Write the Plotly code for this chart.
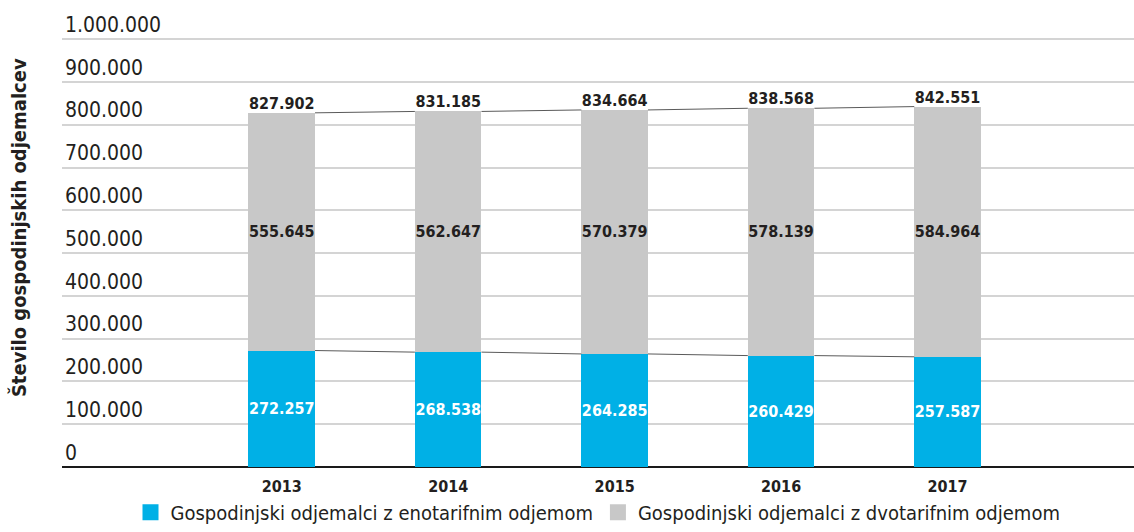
import plotly.graph_objects as go

years = [2013, 2014, 2015, 2016, 2017]
enotarifni = [272257, 268538, 264285, 260429, 257587]
dvotarifni = [555645, 562647, 570379, 578139, 584964]
skupaj = [827902, 831185, 834664, 838568, 842551]

name_eno = "Gospodinjski odjemalci z enotarifnim odjemom"
name_dvo = "Gospodinjski odjemalci z dvotarifnim odjemom"
y_title = "Število gospodinjskih odjemalcev"
y_ticks = [0, 100000, 200000, 300000, 400000, 500000, 600000, 700000, 800000, 900000, 1000000]

BLUE = "#00B0E6"
GRAY = "#C8C8C8"
DARK = "#231F20"
FONT = "DejaVu Sans Condensed, Roboto, sans-serif"
BW = 0.4
YMAX = 1080000

fig = go.Figure()
fig.add_trace(go.Bar(
    x=years, y=enotarifni, width=BW, marker=dict(color=BLUE, line=dict(width=0)),
    texttemplate="<b>%{y:,}</b>", textposition="inside", insidetextanchor="middle", textangle=0,
    textfont=dict(color="white", size=16, family=FONT), showlegend=False, name=name_eno,
))
fig.add_trace(go.Bar(
    x=years, y=dvotarifni, width=BW, marker=dict(color=GRAY, line=dict(width=0)),
    texttemplate="<b>%{y:,}</b>", textposition="inside", insidetextanchor="middle", textangle=0,
    textfont=dict(color=DARK, size=16, family=FONT), showlegend=False, name=name_dvo,
))

# series lines between bars
for vals in (enotarifni, skupaj):
    for i in range(len(years) - 1):
        fig.add_trace(go.Scatter(
            x=[years[i] + BW / 2, years[i + 1] - BW / 2], y=[vals[i], vals[i + 1]],
            mode="lines", line=dict(color="#5a5a5a", width=1), showlegend=False, hoverinfo="skip",
        ))

# totals
fig.add_trace(go.Scatter(
    x=years, y=skupaj, mode="text", texttemplate="<b>%{y:,}</b>", textposition="top center",
    textfont=dict(color=DARK, size=16, family=FONT), showlegend=False, hoverinfo="skip",
))

# legend entries
for nm, col in ((name_eno, BLUE), (name_dvo, GRAY)):
    fig.add_trace(go.Scatter(
        x=[None], y=[None], mode="markers", name=nm,
        marker=dict(symbol="square", size=18, color=col),
    ))

fig.update_layout(
    width=1134, height=532,
    barmode="stack",
    separators=",.",
    uniformtext=dict(minsize=16, mode="show"),
    plot_bgcolor="white", paper_bgcolor="white",
    margin=dict(l=62, r=0, t=5, b=65),
    font=dict(family=FONT, color=DARK, size=20),
    legend=dict(orientation="h", x=0.5, xanchor="center", y=-64.8 / 462, yanchor="bottom",
                traceorder="normal",
                font=dict(size=20, family=FONT, color=DARK),
                bgcolor="rgba(0,0,0,0)"),
    xaxis=dict(
        range=[years[0] - 1.32, years[-1] + 1.12],
        tickvals=years, ticktext=[f"<b>{y}</b>" for y in years],
        tickfont=dict(size=16, family=FONT, color=DARK),
        ticklabelstandoff=8,
        showgrid=False, zeroline=False, showline=False, ticks="",
    ),
    yaxis=dict(
        range=[0, YMAX], tickvals=y_ticks, tickformat=",",
        ticklabelposition="inside top",
        tickfont=dict(size=21, family=FONT, color=DARK),
        showgrid=True, gridcolor="#D4D4D4", gridwidth=1.5,
        zeroline=True, zerolinecolor="#1a1a1a", zerolinewidth=2,
        showline=False, ticks="",
    ),
    annotations=[dict(
        text=f"<b>{y_title}</b>", textangle=-90, xref="paper", yref="paper",
        x=-0.04, y=(467 - 228) / 462, xanchor="center", yanchor="middle", showarrow=False,
        font=dict(size=20, family=FONT, color=DARK),
    )],
)

fig.write_html("out.html", config={"displayModeBar": False},
               post_script="document.body.style.margin='0';")
